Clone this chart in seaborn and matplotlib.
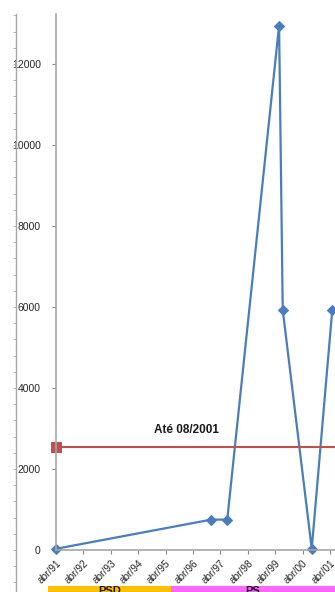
import matplotlib
matplotlib.use("Agg")
import matplotlib.pyplot as plt
from matplotlib.patches import Rectangle
from matplotlib.ticker import MultipleLocator
import seaborn as sns

# dados (meses desde abr/91)
months = [0, 68, 75, 97.7, 99.3, 112, 121]
values = [30, 750, 750, 12950, 5930, 30, 5930]
ref_value = 2550
ref_label = "Até 08/2001"
year_ticks = list(range(0, 121, 12))
year_labels = ["abr/91", "abr/92", "abr/93", "abr/94", "abr/95", "abr/96",
               "abr/97", "abr/98", "abr/99", "abr/00", "abr/01"]
y_ticks = [0, 2000, 4000, 6000, 8000, 10000, 12000]
bands = [("PSD", "#FFC000", 48, 171), ("PS", "#FF66FF", 171, 335)]

sns.set_style("white")
plt.rcParams["font.family"] = ["Liberation Sans", "DejaVu Sans"]

W, H = 335, 592
fig = plt.figure(figsize=(W / 100, H / 100), dpi=100)
px_year = 27.4
x0, y0, ytop = 56, 550, 14
ax = fig.add_axes([x0 / W, (H - y0) / H, (W - x0) / W, (y0 - ytop) / H])
xmax = (W - x0) / px_year * 12
ymax = (y0 - ytop) / 40.5 * 1000

blue = "#4A7EBB"
sns.lineplot(x=months, y=values, ax=ax, color=blue, linewidth=1.6,
             marker="D", markersize=5, markeredgecolor=blue, clip_on=False)

red = "#C0504D"
sns.lineplot(x=[0, xmax], y=[ref_value, ref_value], ax=ax, color=red,
             linewidth=1.5, marker="s", markersize=7, markeredgecolor=red,
             markevery=[0], clip_on=False)
ax.text(57, ref_value + 420, ref_label, ha="center", va="center",
        fontsize=8.5, fontweight="bold", color="#1a1a1a")

ax.set_xlim(0, xmax)
ax.set_ylim(0, ymax)
ax.set_xticks(year_ticks)
ax.set_xticklabels(year_labels, rotation=45, ha="right",
                   rotation_mode="anchor", fontsize=7.3, color="#262626")
ax.set_yticks(y_ticks)
ax.set_yticklabels([str(v) for v in y_ticks], fontsize=7.5, color="#262626")
ax.tick_params(axis="both", direction="out", length=3, width=0.8,
               color="#868686", bottom=True, left=True)
ax.tick_params(axis="y", pad=8)
ax.tick_params(axis="x", pad=3)
for s in ["top", "right"]:
    ax.spines[s].set_visible(False)
for s in ["left", "bottom"]:
    ax.spines[s].set_color("#A6A6A6")
    ax.spines[s].set_linewidth(1.2)
ax.set_xlabel("")
ax.set_ylabel("")

# eixo decorativo à esquerda (outro gráfico cortado)
ax2 = fig.add_axes([16 / W, 0, 0.0001, (H - ytop) / H])
ax2.set_ylim(-(H - y0) / 40.5 * 1000, ymax)
ax2.yaxis.set_major_locator(MultipleLocator(400))
ax2.set_yticklabels([])
ax2.set_xticks([])
ax2.tick_params(axis="y", direction="out", length=2.5, width=0.6,
                color="#A6A6A6", left=True)
for s in ["top", "right", "bottom"]:
    ax2.spines[s].set_visible(False)
ax2.spines["left"].set_color("#A6A6A6")
ax2.spines["left"].set_linewidth(1.0)
ax2.patch.set_visible(False)

# faixas dos partidos
for name, col, xa, xb in bands:
    fig.add_artist(Rectangle((xa / W, 0), (xb - xa) / W, 6 / H,
                             transform=fig.transFigure, color=col, lw=0))
    fig.text((xa + xb) / 2 / W, 5.5 / H, name, ha="center", va="top",
             fontsize=8, fontweight="bold", color="#1a1a1a")

fig.savefig("out.png", dpi=100)
